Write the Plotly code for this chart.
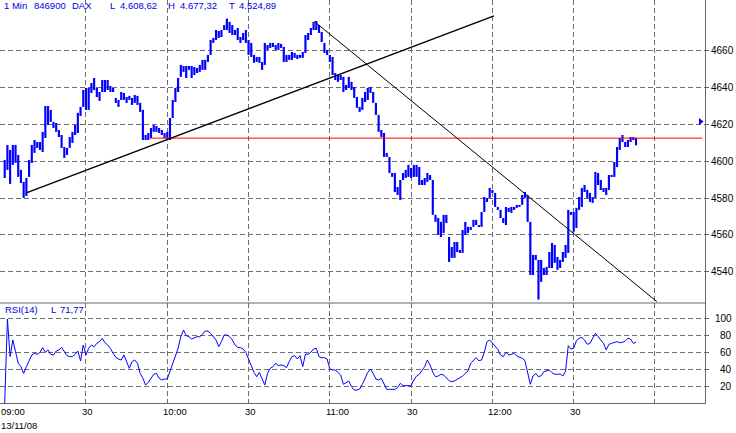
import plotly.graph_objects as go

# ---------------- data ----------------
# one bar per minute, 09:00 = minute 0
highs = [4600.7, 4608.8, 4606.1, 4608.8, 4608.8, 4603.4, 4595.3, 4588.8, 4590.9, 4600.7,
         4608.8, 4611.5, 4610.4, 4610.4, 4615.9, 4629.9, 4629.9, 4627.8, 4621.3, 4620.7,
         4616.9, 4614.2, 4607.7, 4607.2, 4613.1, 4615.9, 4619.6, 4626.2, 4629.4, 4638.6,
         4639.7, 4639.7, 4642.4, 4645.1, 4639.7, 4637.5, 4644.0, 4644.0, 4644.0, 4640.8,
         4639.7, 4634.3, 4633.2, 4637.5, 4637.0, 4634.8, 4635.4, 4634.3, 4635.9, 4635.4,
         4631.6, 4627.8, 4614.2, 4615.3, 4618.0, 4619.6, 4619.1, 4618.0, 4616.9, 4615.3,
         4615.9, 4623.4, 4633.2, 4639.7, 4645.1, 4652.2, 4651.6, 4651.6, 4651.6, 4651.6,
         4651.1, 4650.5, 4652.2, 4654.9, 4654.9, 4657.6, 4665.7, 4666.8, 4671.1, 4670.6,
         4671.1, 4673.8, 4677.3, 4675.5, 4673.8, 4671.1, 4672.2, 4667.3, 4669.5, 4671.1,
         4665.7, 4664.1, 4657.6, 4656.5, 4656.5, 4653.8, 4664.1, 4663.0, 4664.1, 4664.1,
         4663.0, 4664.1, 4663.6, 4661.9, 4657.6, 4657.6, 4659.2, 4658.7, 4657.6, 4657.6,
         4659.2, 4668.4, 4669.5, 4672.2, 4675.5, 4676.0, 4673.8, 4670.1, 4664.1, 4660.3,
         4657.6, 4656.5, 4647.8, 4646.7, 4646.7, 4645.7, 4641.3, 4645.7, 4643.0, 4640.2,
         4634.8, 4629.4, 4634.3, 4637.5, 4639.7, 4640.2, 4637.5, 4631.6, 4625.1, 4616.9,
         4615.3, 4604.5, 4602.3, 4593.6, 4593.6, 4586.0, 4589.8, 4593.6, 4595.3, 4598.0,
         4596.3, 4598.0, 4598.0, 4596.9, 4589.8, 4590.9, 4593.6, 4592.5, 4589.8, 4570.9,
         4569.2, 4567.1, 4570.9, 4570.9, 4558.9, 4553.5, 4556.2, 4556.2, 4551.9, 4562.7,
         4567.1, 4564.4, 4564.4, 4568.2, 4568.2, 4565.4, 4572.5, 4580.6, 4580.1, 4585.5,
         4584.4, 4582.8, 4575.2, 4573.6, 4569.2, 4575.2, 4574.7, 4575.2, 4575.2, 4576.3,
         4576.3, 4581.7, 4583.3, 4581.7, 4567.1, 4549.2, 4549.2, 4546.5, 4546.5, 4542.1,
         4542.7, 4550.8, 4555.7, 4554.6, 4548.1, 4546.5, 4550.8, 4554.6, 4573.6, 4572.5,
         4572.5, 4574.7, 4580.6, 4585.5, 4587.1, 4584.4, 4582.8, 4580.6, 4594.2, 4593.6,
         4589.8, 4585.5, 4585.5, 4592.5, 4592.5, 4599.6, 4607.7, 4612.6, 4614.2, 4610.4,
         4611.5, 4613.1, 4613.1, 4612.6]

lows = [4590.9, 4595.3, 4587.7, 4598.0, 4599.1, 4591.5, 4588.2, 4580.1, 4581.2, 4591.5,
        4599.1, 4604.5, 4607.2, 4606.1, 4605.0, 4612.6, 4619.6, 4621.3, 4618.0, 4615.9,
        4613.1, 4607.2, 4601.8, 4603.4, 4607.2, 4609.9, 4614.2, 4615.3, 4624.5, 4629.4,
        4627.8, 4627.8, 4637.0, 4638.6, 4634.8, 4632.7, 4637.5, 4637.5, 4638.6, 4637.5,
        4637.5, 4631.6, 4629.4, 4633.2, 4633.2, 4631.6, 4633.2, 4630.5, 4631.6, 4630.5,
        4626.7, 4611.5, 4611.5, 4611.5, 4612.6, 4615.9, 4615.9, 4615.3, 4614.2, 4612.6,
        4611.5, 4611.5, 4623.4, 4632.1, 4637.5, 4645.7, 4648.4, 4645.1, 4649.5, 4645.1,
        4646.7, 4647.8, 4648.4, 4649.5, 4649.5, 4653.8, 4657.6, 4664.1, 4665.7, 4666.8,
        4667.3, 4671.1, 4671.1, 4669.5, 4668.4, 4668.4, 4665.7, 4664.1, 4665.7, 4664.1,
        4657.6, 4656.5, 4653.3, 4653.8, 4653.3, 4649.5, 4652.2, 4660.3, 4661.4, 4661.9,
        4660.3, 4660.3, 4661.4, 4653.8, 4653.8, 4654.9, 4654.9, 4656.0, 4655.4, 4656.0,
        4656.0, 4658.7, 4665.7, 4668.4, 4671.1, 4671.1, 4669.5, 4664.6, 4658.7, 4657.6,
        4653.8, 4646.7, 4644.0, 4643.0, 4644.0, 4637.5, 4638.6, 4639.7, 4638.6, 4634.3,
        4628.9, 4626.7, 4627.8, 4632.1, 4633.2, 4637.0, 4631.6, 4625.1, 4615.9, 4613.1,
        4602.3, 4602.3, 4593.6, 4591.5, 4583.3, 4581.7, 4579.0, 4589.8, 4590.9, 4591.5,
        4590.9, 4591.5, 4591.5, 4587.1, 4587.1, 4587.1, 4588.8, 4589.8, 4570.9, 4567.1,
        4560.0, 4558.9, 4561.1, 4566.5, 4545.4, 4547.6, 4547.6, 4550.8, 4550.3, 4550.3,
        4560.0, 4561.1, 4562.7, 4564.4, 4565.4, 4564.4, 4564.4, 4572.5, 4577.9, 4580.1,
        4582.8, 4575.2, 4573.6, 4569.2, 4566.5, 4565.4, 4572.5, 4572.0, 4573.6, 4574.7,
        4575.2, 4576.3, 4580.1, 4567.1, 4538.3, 4538.3, 4546.5, 4525.0, 4534.6, 4538.3,
        4538.3, 4542.1, 4542.1, 4544.9, 4541.1, 4542.1, 4545.4, 4547.6, 4550.3, 4570.9,
        4561.7, 4563.8, 4573.6, 4575.2, 4583.3, 4580.1, 4577.9, 4577.4, 4580.1, 4587.1,
        4584.4, 4583.3, 4581.7, 4584.4, 4591.5, 4591.5, 4596.9, 4606.1, 4610.4, 4607.7,
        4607.7, 4610.4, 4611.5, 4608.6]

rsi = [0.0, 99.2, 54.9, 74.5, 60.7, 47.0, 43.1, 35.2, 43.1, 50.9,
       56.8, 58.8, 57.6, 60.0, 65.4, 60.0, 62.7, 57.6, 56.8, 61.5,
       62.7, 65.8, 60.0, 56.0, 54.9, 54.9, 57.6, 61.5, 49.8, 68.6,
       56.8, 64.7, 68.6, 66.6, 70.5, 72.5, 76.4, 71.3, 68.6, 64.7,
       58.8, 54.1, 52.1, 50.9, 56.8, 49.0, 41.1, 49.0, 50.9, 47.0,
       35.2, 29.4, 21.5, 24.7, 29.4, 34.1, 35.2, 29.4, 27.4, 28.6,
       28.6, 38.0, 47.0, 54.9, 64.7, 78.4, 86.2, 79.6, 78.4, 75.6,
       77.2, 78.4, 78.4, 81.1, 85.0, 85.0, 82.3, 78.4, 74.5, 66.6,
       72.5, 80.3, 80.3, 78.4, 74.5, 68.6, 65.8, 65.4, 63.9, 60.0,
       52.9, 44.3, 36.4, 31.3, 36.4, 29.4, 21.5, 35.2, 41.1, 43.1,
       47.0, 44.3, 45.1, 44.3, 41.9, 49.0, 54.9, 56.0, 52.1, 56.0,
       43.1, 58.0, 57.6, 60.0, 63.9, 64.7, 54.9, 53.7, 53.7, 52.1,
       40.3, 39.2, 39.2, 36.4, 33.3, 22.3, 24.7, 26.2, 19.6, 15.6,
       15.6, 16.8, 22.3, 28.6, 36.4, 40.0, 35.2, 28.6, 27.4, 29.4,
       22.3, 16.4, 16.4, 16.4, 16.4, 18.4, 23.5, 20.7, 20.7, 20.3,
       20.7, 27.4, 32.1, 34.1, 38.8, 43.1, 50.9, 45.1, 36.4, 31.3,
       32.1, 34.1, 33.3, 29.4, 26.6, 25.4, 26.2, 28.2, 30.1, 32.1,
       35.2, 38.0, 47.0, 50.1, 53.7, 50.1, 50.9, 60.0, 72.5, 74.5,
       70.5, 66.6, 63.5, 56.8, 54.9, 60.0, 56.8, 57.6, 58.8, 55.6,
       54.1, 52.9, 50.1, 37.2, 22.3, 32.1, 35.2, 31.3, 32.5, 37.2,
       38.0, 39.2, 36.0, 34.1, 34.1, 34.5, 32.1, 38.0, 67.8, 63.9,
       64.7, 73.7, 76.4, 77.6, 74.5, 69.4, 70.5, 76.4, 82.3, 78.4,
       74.5, 70.5, 62.7, 69.4, 70.5, 71.3, 72.5, 71.3, 71.7, 73.3,
       76.4, 75.6, 70.5, 71.8]

minutes = list(range(len(highs)))            # minutes after 09:00

time_tick_minutes = [0, 30, 60, 90, 120, 150, 180, 210]
time_tick_labels = ["09:00", "30", "10:00", "30", "11:00", "30", "12:00", "30"]
grid_minutes = [30, 60, 90, 120, 150, 180, 210, 240]
price_ticks = [4540, 4560, 4580, 4600, 4620, 4640, 4660]
rsi_ticks = [20, 40, 60, 80, 100]
date_label = "13/11/08"

support_level = 4612.5
support_minutes = [53.6, 257.4]
uptrend_minutes = [8.2, 180.6]
uptrend_prices = [4583.0, 4678.8]
downtrend_minutes = [114.3, 240.7]
downtrend_prices = [4675.7, 4523.9]
last_flag_minute = [256.8]
last_flag_price = [4621.5]

header_items = [("1 Min", 2.5), ("846900", 33), ("DAX", 71), ("L", 109), ("4.608,62", 119),
                ("H", 167), ("4.677,32", 179), ("T", 228), ("4.524,89", 238)]
rsi_header_items = [("RSI(14)", 4), ("L", 50), ("71,77", 59)]

# ---------------- styling ----------------
W, H = 736, 433
PLOT_R, PLOT_B = 705, 403          # plot area right / bottom in px
SEP = 303                          # px of price/RSI separator
BLUE = "#0000ff"
TXT_BLUE = "#0000e0"
GRID = "#6e6e6e"
AXIS = "#666666"
FONT = "Liberation Sans, Arial, sans-serif"
split = (PLOT_B - SEP) / PLOT_B

def px_x(p):
    return p / PLOT_R

def px_y(p):
    return 1 - p / PLOT_B

fig = go.Figure()

# red support line
fig.add_trace(go.Scatter(x=support_minutes, y=[support_level, support_level], mode="lines",
                         line=dict(color="#ff0000", width=1), hoverinfo="skip",
                         xaxis="x", yaxis="y"))
# price bars (low -> high)
fig.add_trace(go.Bar(x=minutes, y=[h - l for h, l in zip(highs, lows)], base=lows,
                     width=0.8, marker=dict(color=BLUE, line=dict(width=0)),
                     xaxis="x", yaxis="y"))
# trend lines
fig.add_trace(go.Scatter(x=uptrend_minutes, y=uptrend_prices, mode="lines",
                         line=dict(color="black", width=1.4), hoverinfo="skip",
                         xaxis="x", yaxis="y"))
fig.add_trace(go.Scatter(x=downtrend_minutes, y=downtrend_prices, mode="lines",
                         line=dict(color="black", width=1), hoverinfo="skip",
                         xaxis="x", yaxis="y"))
# last-price flag
fig.add_trace(go.Scatter(x=last_flag_minute, y=last_flag_price, mode="markers",
                         marker=dict(symbol="triangle-right", size=6, color=BLUE),
                         cliponaxis=False, hoverinfo="skip", xaxis="x", yaxis="y"))
# RSI line
fig.add_trace(go.Scatter(x=minutes, y=rsi, mode="lines", line=dict(color=BLUE, width=1),
                         hoverinfo="skip", xaxis="x", yaxis="y2"))

x0 = -4.7 / 2.7095
x1 = (PLOT_R - 4.7) / 2.7095

fig.update_layout(
    width=W, height=H,
    margin=dict(l=0, r=W - PLOT_R, t=0, b=H - PLOT_B, pad=0),
    paper_bgcolor="white", plot_bgcolor="white",
    showlegend=False, barmode="overlay",
    font=dict(family=FONT, size=9, color="black"),
    xaxis=dict(range=[x0, x1], tickvals=grid_minutes, showticklabels=False,
               showgrid=True, gridcolor=GRID, gridwidth=1, griddash="5px,3px",
               zeroline=False, showline=True, linecolor=AXIS, linewidth=1,
               ticks="", anchor="y2", fixedrange=True),
    yaxis=dict(domain=[split, 1], range=[4523.14, 4687.37], side="right",
               tickvals=price_ticks, showgrid=True, gridcolor=GRID, gridwidth=1,
               griddash="5px,3px", zeroline=False, showline=True, linecolor=AXIS,
               linewidth=1, ticks="outside", ticklen=3, tickcolor=AXIS,
               tickfont=dict(family=FONT, size=10, color="black"), anchor="x"),
    yaxis2=dict(domain=[0, split], range=[0.35, 118.0], side="right",
                tickvals=rsi_ticks, showticklabels=False, showgrid=True,
                gridcolor=GRID, gridwidth=1, griddash="5px,3px", zeroline=False,
                showline=True, linecolor=AXIS, linewidth=1, ticks="outside",
                ticklen=3, tickcolor=AXIS, anchor="x"),
)

shapes = [
    # separator between price and RSI panels
    dict(type="line", xref="paper", yref="paper", x0=0, x1=1, y0=split, y1=split,
         line=dict(color=AXIS, width=1)),
    # header band hides the grid behind the title text
    dict(type="rect", xref="paper", yref="paper", x0=0, x1=1, y0=px_y(15), y1=1,
         fillcolor="white", line=dict(width=0), layer="between"),
]
fig.update_layout(shapes=shapes)

ann = []
for txt, xp in header_items:
    ann.append(dict(text=txt, xref="paper", yref="paper", x=px_x(xp - 1), y=px_y(5.5),
                    xanchor="left", yanchor="middle", showarrow=False,
                    font=dict(family=FONT, size=9.5, color=TXT_BLUE)))
for txt, xp in rsi_header_items:
    ann.append(dict(text=txt, xref="paper", yref="paper", x=px_x(xp - 1), y=px_y(309.5),
                    xanchor="left", yanchor="middle", showarrow=False,
                    font=dict(family=FONT, size=9.5, color=TXT_BLUE)))
for m, txt in zip(time_tick_minutes, time_tick_labels):
    ann.append(dict(text=txt, xref="x", yref="paper", x=m, y=0, xshift=-6,
                    yshift=-(411.5 - PLOT_B), xanchor="left", yanchor="middle",
                    showarrow=False, font=dict(family=FONT, size=9.5, color="black")))
ann.append(dict(text=date_label, xref="paper", yref="paper", x=px_x(-1), y=0,
                yshift=-(425.5 - PLOT_B), xanchor="left", yanchor="middle",
                showarrow=False, font=dict(family=FONT, size=9.5, color="black")))
for v in rsi_ticks:
    ann.append(dict(text=str(v), xref="paper", yref="y2", x=px_x(734), y=v,
                    xanchor="right", yanchor="middle", showarrow=False,
                    font=dict(family=FONT, size=10, color="black")))
fig.update_layout(annotations=ann)

fig.write_html("out.html", config={"displayModeBar": False},
               post_script="document.body.style.margin='0px';document.body.style.overflow='hidden';")
